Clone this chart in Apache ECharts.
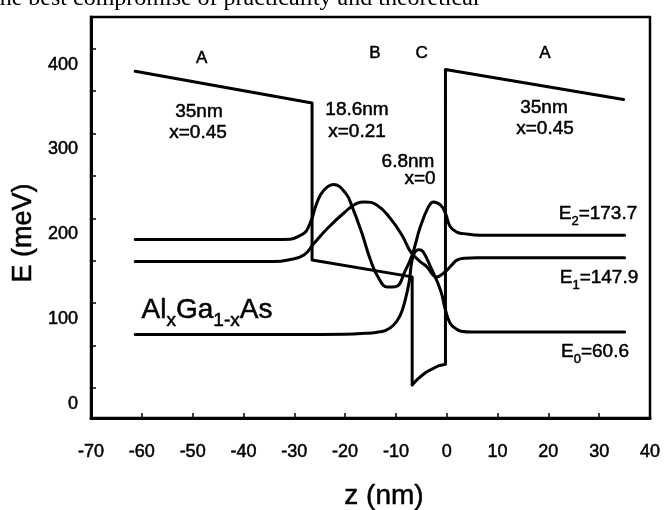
<!DOCTYPE html>
<html>
<head>
<meta charset="utf-8">
<script src="https://cdn.jsdelivr.net/npm/echarts@6/dist/echarts.min.js"></script>
<style>html,body{margin:0;padding:0;background:#fff}#c{width:666px;height:510px}</style>
</head>
<body>
<div id="c"></div>
<script>
// ---- axis ticks / labels ----
const yTickValues = [0, 50, 100, 150, 200, 250, 300, 350, 400];
const yLabelValues = [0, 100, 200, 300, 400];

// ---- conduction band profile (z in nm, E in meV) ----
const potentialZ = [-61.3, -26.5, -26.5, -6.8, -6.8, -6.0, -5.2, -4.2, -3.3, -1.6, -0.25, -0.25, 34.8];
const potentialE = [373.4, 336, 151, 131, 3.5, 9, 13.3, 18, 21.2, 26.3, 28, 375.4, 340];

// ---- wavefunctions offset to their levels ----
const e0Z = [-61.3, -30, -20, -16, -14, -12, -10.5, -9.2, -8.2, -7.4, -6.9, -6.3, -5.5, -4.7, -3.2, -1.2, -0.25, 0.7, 1.8, 2.8, 5, 12, 35];
const e0E = [63, 63, 63.5, 64.5, 65.5, 68, 74, 85, 103, 125, 148, 160, 163, 161, 143, 115, 92, 76, 70, 67, 66, 66, 66];

const e1Z = [-61.3, -34, -30.8, -28.1, -26.2, -23.5, -20.3, -17.6, -16.2, -13.7, -11.1, -8.8, -7.1, -5.4, -3.9, -2.0, -0.3, 1.0, 2.0, 3.5, 6, 35];
const e1E = [149, 149, 151.5, 156.7, 170, 188, 206, 218, 219.4, 215.5, 200, 180, 160.5, 150, 142.9, 131, 137, 145, 150.8, 153, 153.5, 153.5];

const e2Z = [-61.3, -34, -30.8, -28.8, -27.8, -27.2, -26.5, -25.8, -24.8, -23.5, -22.3, -19.9, -18.6, -16.7, -15.0, -13.4, -11.7, -10.1, -8.1, -6.8, -5.2, -3.6, -2.6, -1.2, -0.25, 0.7, 2.0, 3.3, 6.6, 35];
const e2E = [175, 175, 175.5, 180, 184, 190, 200, 214, 228, 237, 240, 229.7, 213.5, 182.6, 150.8, 129.6, 119, 119.3, 139, 156.7, 190, 213.5, 219.4, 215.5, 205.8, 190, 183.7, 182, 180, 180];

// ---- labels ----
const levelNames = ['2', '1', '0'];
const levelValues = ['173.7', '147.9', '60.6'];

function pairs(zs, es) { return zs.map((z, i) => [z, es[i]]); }

const FONT = '"Liberation Sans", Arial, Helvetica, sans-serif';
const lineStyle = { color: '#000', width: 3, cap: 'round', join: 'round' };
const THICK = 0.5;

function waveSeries(zs, es) {
  return {
    type: 'line', data: pairs(zs, es), showSymbol: false, smooth: 0.45,
    lineStyle: lineStyle, silent: true, animation: false, z: 3
  };
}

function txt(x, y, s, size, extra) {
  return Object.assign({
    type: 'text', x: x, y: y, silent: true, z: 10,
    style: { text: s, fontSize: size, fontFamily: FONT, fill: '#000', stroke: '#000', lineWidth: THICK, align: 'center', verticalAlign: 'middle' }
  }, extra || {});
}

function levelText(x, y, idx) {
  return {
    type: 'text', x: x, y: y, silent: true, z: 10,
    style: {
      text: '{n|E}{s|' + levelNames[idx] + '}{n|=' + levelValues[idx] + '}',
      align: 'center', verticalAlign: 'middle', fill: '#000',
      rich: {
        n: { fontSize: 19, fontFamily: FONT, fill: '#000', stroke: '#000', lineWidth: THICK, lineHeight: 22 },
        s: { fontSize: 13, fontFamily: FONT, fill: '#000', stroke: '#000', lineWidth: THICK, lineHeight: 13, verticalAlign: 'bottom', padding: [0, 0, -3, 0] }
      }
    }
  };
}

const chart = echarts.init(document.getElementById('c'), null, { renderer: 'canvas' });

chart.setOption({
  backgroundColor: '#fff',
  animation: false,
  grid: { left: 91, top: 17, width: 559, height: 401, show: true, borderColor: '#000', borderWidth: 2.5, backgroundColor: 'transparent' },
  xAxis: {
    type: 'value', min: -70, max: 40, interval: 10,
    axisLine: { show: true, onZero: false, lineStyle: { color: '#000', width: 3 } },
    axisTick: { show: true, inside: true, length: 5, lineStyle: { color: '#000', width: 1.5 } },
    axisLabel: { color: '#000', fontSize: 18, fontFamily: FONT, margin: 25, textBorderColor: '#000', textBorderWidth: THICK },
    splitLine: { show: false }
  },
  yAxis: {
    type: 'value', min: -35.3, max: 437.3,
    axisLine: { show: true, onZero: false, lineStyle: { color: '#000', width: 3 } },
    axisTick: { show: true, inside: true, length: 5, customValues: yTickValues, lineStyle: { color: '#000', width: 1.5 } },
    axisLabel: {
      color: '#000', fontSize: 18, fontFamily: FONT, margin: 13, customValues: yLabelValues,
      lineHeight: 32, formatter: function (v) { return '\n' + v; },
      textBorderColor: '#000', textBorderWidth: THICK
    },
    splitLine: { show: false }
  },
  series: [
    {
      type: 'line', data: pairs(potentialZ, potentialE), showSymbol: false,
      lineStyle: lineStyle, silent: true, animation: false, z: 3
    },
    waveSeries(e0Z, e0E),
    waveSeries(e1Z, e1E),
    waveSeries(e2Z, e2E)
  ],
  graphic: [
    // cut-off text line from the scanned page
    { type: 'text', x: -7, y: 11, silent: true,
      style: { text: 'the best compromise of practicality and theoretical', fontSize: 24,
               fontFamily: '"Liberation Serif", "Times New Roman", serif', fill: '#000', align: 'left', verticalAlign: 'bottom' } },
    txt(201.7, 58, 'A', 17),
    txt(375, 53.5, 'B', 17),
    txt(421.7, 53.5, 'C', 17),
    txt(545, 53.5, 'A', 17),
    txt(199, 112, '35nm', 19),
    txt(198, 133, 'x=0.45', 19),
    txt(357, 110, '18.6nm', 19),
    txt(357, 132, 'x=0.21', 19),
    txt(408, 162, '6.8nm', 19),
    txt(420, 179, 'x=0', 19),
    txt(544, 108, '35nm', 19),
    txt(545, 129, 'x=0.45', 19),
    levelText(598, 214, 0),
    levelText(599, 278, 1),
    levelText(595, 352, 2),
    {
      type: 'text', x: 207, y: 310, silent: true, z: 10,
      style: {
        text: '{n|Al}{s|x}{n|Ga}{s|1-x}{n|As}', align: 'center', verticalAlign: 'middle', fill: '#000',
        rich: {
          n: { fontSize: 28, fontFamily: FONT, fill: '#000', stroke: '#000', lineWidth: THICK, lineHeight: 32 },
          s: { fontSize: 19, fontFamily: FONT, fill: '#000', stroke: '#000', lineWidth: THICK, lineHeight: 19, verticalAlign: 'bottom', padding: [0, 0, -4, 0] }
        }
      }
    },
    txt(24, 233, 'E (meV)', 27, { rotation: Math.PI / 2 }),
    txt(384, 496, 'z (nm)', 28)
  ]
});
</script>
</body>
</html>
